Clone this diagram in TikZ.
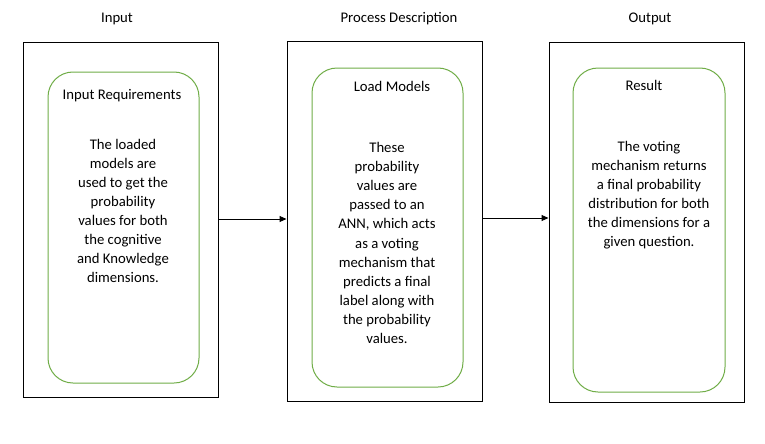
\documentclass[tikz,border=0pt]{standalone}
\usepackage{fontspec}
\setmainfont{Carlito}
\usetikzlibrary{arrows.meta}
\definecolor{offgreen}{HTML}{70AD47}
\tikzset{
  outerbox/.style={draw=black, line width=1pt, minimum width=195pt, inner sep=0pt},
  greenbox/.style={draw=offgreen, line width=1pt, rounded corners=25pt, minimum width=151pt, inner sep=0pt},
  lbl/.style={font=\fontsize{14.7}{19.1}\selectfont, inner sep=0pt, align=center},
  conn/.style={draw=black, line width=1pt, -{Triangle[length=7pt,width=6pt]}}
}
\begin{document}
\begin{tikzpicture}[x=1pt,y=-1pt]
\useasboundingbox[fill=white] (0,0) rectangle (765,444);
% outer boxes
\node[outerbox, minimum height=354pt] (box1) at (120.5,220) {};
\node[outerbox, minimum height=359pt] (box2) at (384.5,221.5) {};
\node[outerbox, minimum height=359pt] (box3) at (646.5,222.5) {};
% inner green boxes
\node[greenbox, minimum height=311pt] (g1) at (123.5,227.5) {};
\node[greenbox, minimum height=319pt] (g2) at (387.5,227.5) {};
\node[greenbox, minimum width=152pt, minimum height=324pt] (g3) at (649,230) {};
% titles
\node[lbl] (t1) at (117,19) {Input};
\node[lbl] (t2) at (399,19) {Process Description};
\node[lbl] (t3) at (650,19) {Output};
% subtitles
\node[lbl] (s1) at (122,96) {Input Requirements};
\node[lbl] (s2) at (392,86) {Load Models};
\node[lbl] (s3) at (644,85) {Result};
% bodies
\node[lbl] (b1) at (123,211) {The loaded\\models are\\used to get the\\probability\\values for both\\the cognitive\\and Knowledge\\dimensions.};
\node[lbl] (b2) at (387,243) {These\\probability\\values are\\passed to an\\ANN, which acts\\as a voting\\mechanism that\\predicts a final\\label along with\\the probability\\values.};
\node[lbl] (b3) at (649,195) {The voting\\mechanism returns\\a final probability\\distribution for both\\the dimensions for a\\given question.};
% connectors
\coordinate (a1s) at (box1.east |- 0,219);
\coordinate (a1e) at (box2.west |- 0,219);
\coordinate (a2s) at (box2.east |- 0,218);
\coordinate (a2e) at (box3.west |- 0,218);
\draw[conn] (a1s) -- (a1e);
\draw[conn] (a2s) -- (a2e);
\end{tikzpicture}
\end{document}
